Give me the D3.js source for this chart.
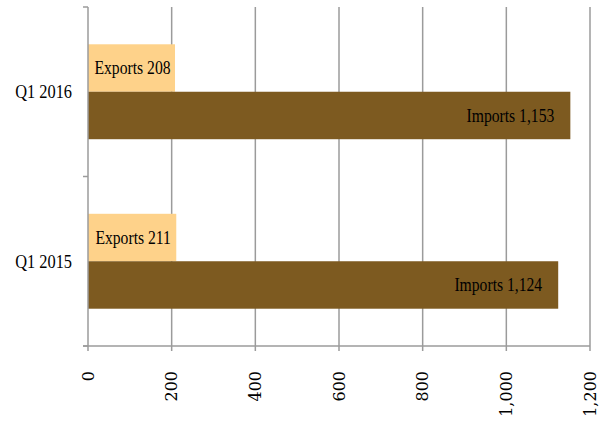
<!DOCTYPE html>
<html>
<head>
<meta charset="utf-8">
<script src="https://cdn.jsdelivr.net/npm/d3@7"></script>
<style>
  html, body { margin: 0; padding: 0; background: #fff; }
  svg { display: block; }
</style>
</head>
<body>
<svg id="chart" width="603" height="423"></svg>
<script>
const categories = ["Q1 2016", "Q1 2015"];
const seriesNames = ["Exports", "Imports"];
const exportsValues = [208, 211];
const importsValues = [1153, 1124];
const tickValues = [0, 200, 400, 600, 800, 1000, 1200];

const colors = { Exports: "#FED28A", Imports: "#7D5A20" };
const width = 603, height = 423;
const margin = { top: 7, right: 13, bottom: 77, left: 88 };
const svg = d3.select("#chart");
const serif = "'Liberation Serif', 'Times New Roman', serif";
const squeeze = 0.87;

const x = d3.scaleLinear().domain([0, 1200]).range([margin.left, width - margin.right]);
const y = d3.scaleBand().domain(categories).range([margin.top, height - margin.bottom])
  .paddingInner(0.44).paddingOuter(0.22);
const ySub = d3.scaleBand().domain(seriesNames).range([0, y.bandwidth()]);

const rows = categories.map((c, i) => ({ cat: c, Exports: exportsValues[i], Imports: importsValues[i] }));

const gridColor = "#9b9b9b";
const y0 = margin.top, y1 = height - margin.bottom;

// gridlines
svg.append("g").selectAll("line").data(tickValues.filter(d => d > 0)).join("line")
  .attr("x1", d => x(d)).attr("x2", d => x(d))
  .attr("y1", y0).attr("y2", y1 + 5)
  .attr("stroke", gridColor).attr("stroke-width", 1.5);

// bars
const groups = svg.append("g").selectAll("g").data(rows).join("g")
  .attr("transform", d => `translate(0,${y(d.cat)})`);
groups.selectAll("rect").data(d => seriesNames.map(s => ({ s, v: d[s] }))).join("rect")
  .attr("x", x(0)).attr("y", d => ySub(d.s))
  .attr("width", d => x(d.v) - x(0)).attr("height", ySub.bandwidth())
  .attr("fill", d => colors[d.s]);

// data labels
const fmt = d3.format(",");
groups.selectAll("text").data(d => seriesNames.map(s => ({ s, v: d[s] }))).join("text")
  .attr("transform", d => {
    const tx = d.s === "Exports" ? (x(0) + x(d.v)) / 2 + 1 : x(d.v) - 16;
    const ty = ySub(d.s) + ySub.bandwidth() / 2;
    return `translate(${tx},${ty}) scale(${squeeze},1)`;
  })
  .attr("dy", "0.35em")
  .attr("text-anchor", d => d.s === "Exports" ? "middle" : "end")
  .attr("font-family", serif)
  .attr("font-size", 18)
  .attr("fill", "#000")
  .text(d => `${d.s} ${fmt(d.v)}`);

// left axis line with boundary ticks
svg.append("line").attr("x1", x(0)).attr("x2", x(0)).attr("y1", y0).attr("y2", y1 + 5)
  .attr("stroke", gridColor).attr("stroke-width", 1.5);
const boundaries = [y0, (y(categories[0]) + y.bandwidth() + y(categories[1])) / 2, y1];
svg.append("g").selectAll("line").data(boundaries).join("line")
  .attr("x1", x(0) - 5).attr("x2", x(0)).attr("y1", d => d).attr("y2", d => d)
  .attr("stroke", gridColor).attr("stroke-width", 1.5);

// bottom axis line
svg.append("line").attr("x1", x(0) - 5).attr("x2", x(1200)).attr("y1", y1).attr("y2", y1)
  .attr("stroke", gridColor).attr("stroke-width", 1.5);

// category labels
svg.append("g").selectAll("text").data(categories).join("text")
  .attr("transform", d => `translate(72,${y(d) + y.bandwidth() / 2}) scale(0.91,1)`)
  .attr("dy", "0.35em").attr("text-anchor", "end")
  .attr("font-family", serif)
  .attr("font-size", 18).attr("fill", "#000")
  .text(d => d);

// x tick labels rotated
svg.append("g").selectAll("text").data(tickValues).join("text")
  .attr("transform", d => `translate(${x(d)},${y1 + 25}) rotate(-90)`)
  .attr("dy", "0.35em").attr("text-anchor", "end")
  .attr("font-family", "'DejaVu Serif', serif")
  .attr("font-size", 16).attr("fill", "#000")
  .text(d => fmt(d));
</script>
</body>
</html>
